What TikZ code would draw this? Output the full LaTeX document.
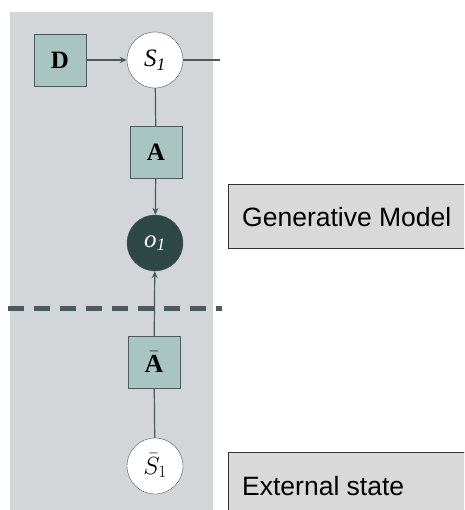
\documentclass[tikz,border=0pt]{standalone}
\usepackage{fontspec}
\setmainfont{Liberation Serif}
\newfontfamily\tagfont{Liberation Sans}
\usetikzlibrary{arrows.meta,positioning}
\tikzset{>=Stealth}

\definecolor{panelgrey}{HTML}{D3D6D9}
\definecolor{factorfill}{HTML}{A8C5C1}
\definecolor{edgegrey}{HTML}{4B5B5B}
\definecolor{obsfill}{HTML}{2E4848}
\definecolor{tagfill}{HTML}{D9D9D9}

\begin{document}
\begin{tikzpicture}[x=1pt,y=-1pt,
    factor/.style={draw=edgegrey, fill=factorfill, minimum size=52pt, inner sep=0pt,
      font=\fontsize{25}{27}\selectfont\bfseries},
    state/.style={circle, draw=edgegrey, fill=white, minimum size=56pt, inner sep=0pt,
      font=\fontsize{25}{27}\selectfont\itshape},
    obs/.style={state, fill=obsfill, text=white},
    link/.style={draw=edgegrey, line width=1.2pt, -{Stealth[length=7pt,width=6pt]}},
    plain/.style={draw=edgegrey, line width=1.2pt},
    tag/.style={anchor=west, inner sep=0pt, font=\tagfont\fontsize{26.5}{29}\selectfont}
  ]
  \clip (0,0) rectangle (464,510);
  \fill[white] (0,0) rectangle (464,510);

  % model panel
  \fill[panelgrey] (10,12) rectangle (213,520);

  % nodes
  \node[factor] (D) at (60,60) {D};
  \node[state] (s1) at (155,60) {S\textsubscript{1}};
  \node[factor] (A) at (156,152) {A};
  \node[obs] (o1) at (155,243) {o\textsubscript{1}};
  \node[factor, font=\fontsize{26}{28}\selectfont] (Abar) at (154,362) {$\bar{\mathbf{A}}$};
  \node[state, font=\fontsize{26}{28}\selectfont] (s1bar) at (155,466) {$\bar{S}_1$};
  \coordinate (next) at (220,60);

  % connectors
  \draw[link] (D) -- (s1);
  \draw[plain] (s1) -- (next);
  \draw[plain] (s1) -- (A);
  \draw[link] (A) -- (o1);
  \draw[plain] (s1bar) -- (Abar);
  \draw[link] (Abar) -- (o1);

  % boundary between model and world
  \draw[edgegrey, line width=5pt, dash pattern=on 16pt off 10pt] (8,308) -- (222,308);

  % labels on the right
  \draw[black!80, fill=tagfill, line width=1pt] (228,185) rectangle (480,248);
  \node[tag] (genlabel) at (242,217) {Generative Model};
  \draw[black!80, fill=tagfill, line width=1pt] (228,452) rectangle (480,530);
  \node[tag] (extlabel) at (242,486) {External state};
\end{tikzpicture}
\end{document}
